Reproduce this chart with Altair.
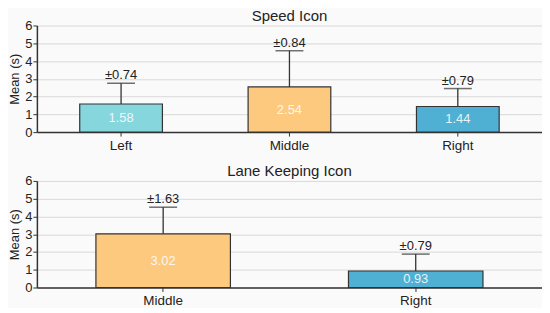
import altair as alt
import pandas as pd

speed_conditions = ["Left", "Middle", "Right"]
speed_means = [1.58, 2.54, 1.44]
speed_sd_labels = ["±0.74", "±0.84", "±0.79"]
speed_whisker_tops = [2.75, 4.58, 2.45]

lane_conditions = ["Middle", "Right"]
lane_means = [3.02, 0.93]
lane_sd_labels = ["±1.63", "±0.79"]
lane_whisker_tops = [4.52, 1.88]

y_ticks = [0, 1, 2, 3, 4, 5, 6]

color_map = {"Left": "#86d6de", "Middle": "#fdc97f", "Right": "#4fb0d4"}

FONT = "Liberation Sans"

Y_AXIS = alt.Axis(values=y_ticks, tickCount=len(y_ticks), labelOverlap=False)
Y_SCALE = alt.Scale(domain=[0, 6], nice=False)


def panel(conds, means, sds, tops, title, bar_size, cap_size):
    df = pd.DataFrame({
        "cond": conds,
        "mean": means,
        "sd": sds,
        "top": tops,
        "color": [color_map[c] for c in conds],
        "label": [f"{m:.2f}" for m in means],
    })
    x = alt.X("cond:N", sort=conds, title=None,
              scale=alt.Scale(paddingInner=0, paddingOuter=0),
              axis=alt.Axis(labelAngle=0, labelFontSize=13.5, labelColor="#222",
                            labelFont=FONT, domainColor="#333", domainWidth=1.5,
                            tickColor="#333", tickSize=4, labelPadding=2))

    def y(field):
        return alt.Y(field, title="Mean (s)", scale=Y_SCALE, axis=Y_AXIS)

    base = alt.Chart(df)
    bars = base.mark_bar(size=bar_size, stroke="#333", strokeWidth=1.2).encode(
        x=x, y=y("mean:Q"), color=alt.Color("color:N", scale=None))
    rule = base.mark_rule(color="#333", strokeWidth=1.3).encode(
        x=x, y=y("mean:Q"), y2="top:Q")
    cap = base.mark_tick(color="#333", thickness=1.5, size=cap_size,
                         orient="horizontal").encode(x=x, y=y("top:Q"))
    sdtext = base.mark_text(dy=-8, fontSize=13, font=FONT, color="#222").encode(
        x=x, y=y("top:Q"), text="sd:N")
    vals = base.mark_text(fontSize=13, font=FONT, color="white", opacity=0.85,
                          baseline="middle").encode(
        x=x, y=y("mid:Q"), text="label:N").transform_calculate(
        mid="datum.mean / 2")
    return alt.layer(bars, rule, cap, sdtext, vals).properties(
        width=507, height=107,
        title=alt.TitleParams(title, fontSize=15, font=FONT, frame="group",
                              fontWeight="normal", color="#222", offset=-4))


top = panel(speed_conditions, speed_means, speed_sd_labels, speed_whisker_tops,
            "Speed Icon", 83, 28)
bottom = panel(lane_conditions, lane_means, lane_sd_labels, lane_whisker_tops,
               "Lane Keeping Icon", 135, 28)

chart = alt.vconcat(top, bottom, spacing=12).properties(
    background="#fafafa", padding=0
).configure_view(stroke=None).configure_axisY(
    tickCount=len(y_ticks), labelFontSize=13, labelFont=FONT, labelColor="#222",
    titleFont=FONT, titleFontSize=13, titleFontWeight="normal",
    titleColor="#222", domainColor="#333", domainWidth=1.5,
    tickColor="#333", tickSize=4, labelPadding=1, titlePadding=3,
    gridColor="#d9d9d9", gridWidth=1, labelOverlap=False)

chart.save("out.html", embed_options={"renderer": "svg", "actions": False})
